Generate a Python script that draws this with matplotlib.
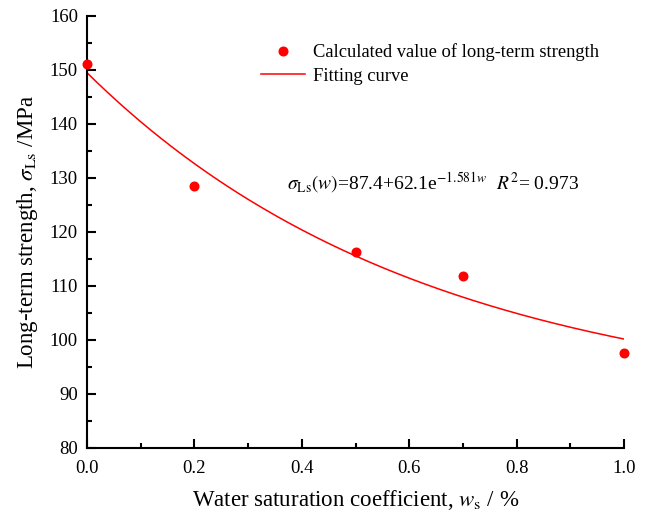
import numpy as np
import matplotlib
matplotlib.use("Agg")
import matplotlib.pyplot as plt
from matplotlib.ticker import MultipleLocator

plt.rcParams['font.family'] = ['Liberation Serif', 'DejaVu Serif']
plt.rcParams['mathtext.fontset'] = 'stix'

w_points = [0.0, 0.2, 0.5, 0.7, 1.0]
strength_points = [151.1, 128.5, 116.3, 111.9, 97.6]

# fitting curve parameters (from the chart's equation)
fit_a, fit_b, fit_c = 87.4, 62.1, 1.581
w_fit = np.linspace(0.0, 1.0, 200)
s_fit = fit_a + fit_b * np.exp(-fit_c * w_fit)

fig = plt.figure(figsize=(6.46, 5.16), dpi=100)
ax = fig.add_axes([87/646, (516-448)/516, (624-87)/646, (448-16)/516])

ax.plot(w_points, strength_points, 'o', color='#ff0000', markersize=6.2,
        label='Calculated value of long-term strength', clip_on=False, zorder=3)
ax.plot(w_fit, s_fit, '-', color='#ff0000', linewidth=1.1, label='Fitting curve')

ax.set_xlim(0, 1.0)
ax.set_ylim(80, 160)
ax.xaxis.set_major_locator(MultipleLocator(0.2))
ax.xaxis.set_minor_locator(MultipleLocator(0.1))
ax.yaxis.set_major_locator(MultipleLocator(10))
ax.yaxis.set_minor_locator(MultipleLocator(5))
ax.xaxis.set_major_formatter(matplotlib.ticker.FormatStrFormatter('%.1f'))

for s in ['top', 'right']:
    ax.spines[s].set_visible(False)
for s in ['left', 'bottom']:
    ax.spines[s].set_linewidth(1.5)

ax.tick_params(which='major', direction='in', length=6.5, width=1.5, labelsize=13.5)
ax.tick_params(axis='x', which='major', pad=8.5)
ax.tick_params(axis='y', which='major', pad=6.5)
ax.tick_params(which='minor', direction='in', length=3.8, width=1.5)

ax.set_xlabel(r'Water saturation coefficient, $w_{\rm s}$ / %', fontsize=16.5, labelpad=8)
ax.set_ylabel(r'Long-term strength, $\sigma_{\rm Ls}$ /MPa', fontsize=16.5, labelpad=7)

ax.text(0.372, 128.9, r'$\sigma_{\rm Ls}(w)$=87.4+62.1e$^{-1.581w}$  $R^2$= 0.973',
        fontsize=14, va='center', ha='left')

leg = ax.legend(loc='upper left', bbox_to_anchor=(0.31, 0.954), frameon=False,
                fontsize=13.3, handlelength=2.4, handletextpad=0.4, labelspacing=0.35,
                borderaxespad=0)

fig.savefig('out.png', dpi=100)
